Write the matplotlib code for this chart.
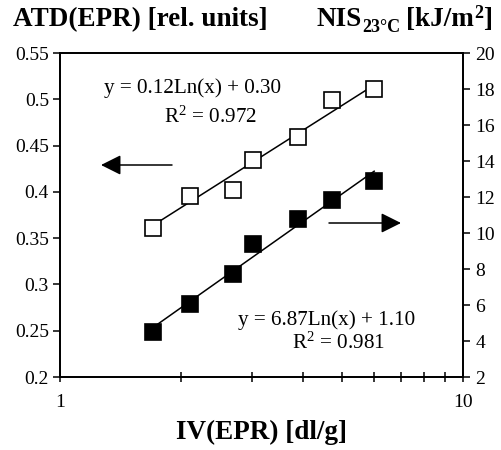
import numpy as np
import matplotlib
matplotlib.use("Agg")
import matplotlib.pyplot as plt
from matplotlib.ticker import FixedLocator, NullFormatter, FixedFormatter

plt.rcParams['font.family'] = ['Liberation Serif', 'DejaVu Serif']
plt.rcParams['mathtext.fontset'] = 'custom'
plt.rcParams['mathtext.rm'] = 'Liberation Serif'
plt.rcParams['mathtext.it'] = 'Liberation Serif:italic'
plt.rcParams['mathtext.bf'] = 'Liberation Serif:bold'

# data
iv = [1.70, 2.10, 2.69, 3.01, 3.90, 4.72, 6.02]
atd = [0.361, 0.395, 0.402, 0.434, 0.459, 0.499, 0.511]
nis = [4.48, 6.04, 7.70, 9.39, 10.78, 11.83, 12.89]
atd_fit = (0.12, 0.30)
nis_fit = (6.87, 1.10)
left_ticks = [0.2, 0.25, 0.3, 0.35, 0.4, 0.45, 0.5, 0.55]
left_labels = ['0.2', '0.25', '0.3', '0.35', '0.4', '0.45', '0.5', '0.55']
right_ticks = [2, 4, 6, 8, 10, 12, 14, 16, 18, 20]

W, H = 502, 450
fig = plt.figure(figsize=(W/100, H/100), dpi=100)
ax = fig.add_axes([60/W, 1-377/H, 403/W, 324/H])
ax2 = ax.twinx()

ax.set_xscale('log')
ax.set_xlim(1, 10)
ax.set_ylim(0.2, 0.55)
ax2.set_ylim(2, 20)

x = np.array(iv)
xl = np.linspace(x.min(), x.max(), 50)

ax.plot(xl, atd_fit[0]*np.log(xl) + atd_fit[1], color='black', lw=1.1, zorder=2)
ax.plot(iv, atd, ls='none', marker='s', ms=11, mfc='white', mec='black', mew=1.2, zorder=3)
ax2.plot(xl, nis_fit[0]*np.log(xl) + nis_fit[1], color='black', lw=1.1, zorder=2)
ax2.plot(iv, nis, ls='none', marker='s', ms=11, mfc='black', mec='black', mew=1.2, zorder=3)

ax.set_yticks(left_ticks)
ax.set_yticklabels(left_labels)
ax2.set_yticks(right_ticks)
ax2.set_yticklabels([str(t) for t in right_ticks])

ax.xaxis.set_major_locator(FixedLocator([1, 10]))
ax.xaxis.set_major_formatter(FixedFormatter(['1', '10']))
ax.xaxis.set_minor_locator(FixedLocator([2, 3, 4, 5, 6, 7, 8, 9]))
ax.xaxis.set_minor_formatter(NullFormatter())

for a in (ax, ax2):
    for s in a.spines.values():
        s.set_linewidth(1.3)
ax.tick_params(axis='y', direction='out', length=5, width=1.1, labelsize=14, pad=3)
ax2.tick_params(axis='y', direction='out', length=5, width=1.1, labelsize=14, pad=4)
ax.tick_params(axis='x', which='both', direction='inout', length=7, width=1.1, labelsize=14, pad=9)

ax.set_xlabel('IV(EPR) [dl/g]', fontsize=19.5, fontweight='bold', labelpad=6)

# top axis titles
base_y = 1 - 26/H
fig.text(13/W, base_y, 'ATD(EPR) [rel. units]', fontsize=19.5, fontweight='bold',
         ha='left', va='baseline')

renderer = fig.canvas.get_renderer()
xpos = 317
t1 = fig.text(xpos/W, base_y, 'NIS', fontsize=19.5, fontweight='bold', ha='left', va='baseline')
xpos += t1.get_window_extent(renderer).width
t2 = fig.text(xpos/W, base_y - 6/H, '23°C', fontsize=13, fontweight='bold', ha='left', va='baseline')
xpos += t2.get_window_extent(renderer).width + 6
t3 = fig.text(xpos/W, base_y, '[kJ/m', fontsize=19.5, fontweight='bold', ha='left', va='baseline')
xpos += t3.get_window_extent(renderer).width
t4 = fig.text(xpos/W, base_y + 8/H, '2', fontsize=13, fontweight='bold', ha='left', va='baseline')
xpos += t4.get_window_extent(renderer).width
fig.text(xpos/W, base_y, ']', fontsize=19.5, fontweight='bold', ha='left', va='baseline')

def axfrac(px, py):
    return ((px-60)/403, (377-py)/324)

fs = 15.2
ax.text(*axfrac(193, 88), 'y = 0.12Ln(x) + 0.30', transform=ax.transAxes,
        ha='center', va='center', fontsize=fs)
ax.text(*axfrac(210, 117), r'R$^2$ = 0.972', transform=ax.transAxes,
        ha='center', va='center', fontsize=fs)
ax.text(*axfrac(327, 320), 'y = 6.87Ln(x) + 1.10', transform=ax.transAxes,
        ha='center', va='center', fontsize=fs)
ax.text(*axfrac(338, 343), r'R$^2$ = 0.981', transform=ax.transAxes,
        ha='center', va='center', fontsize=fs)

arrow = dict(arrowstyle='-|>,head_length=0.68,head_width=0.34', color='black', lw=1.1,
             mutation_scale=18, shrinkA=0, shrinkB=0)
ax.annotate('', xy=axfrac(101, 165), xytext=axfrac(172, 165),
            xycoords='axes fraction', textcoords='axes fraction', arrowprops=arrow)
ax.annotate('', xy=axfrac(401, 223), xytext=axfrac(329, 223),
            xycoords='axes fraction', textcoords='axes fraction', arrowprops=arrow)

fig.savefig('out.png', dpi=100)
